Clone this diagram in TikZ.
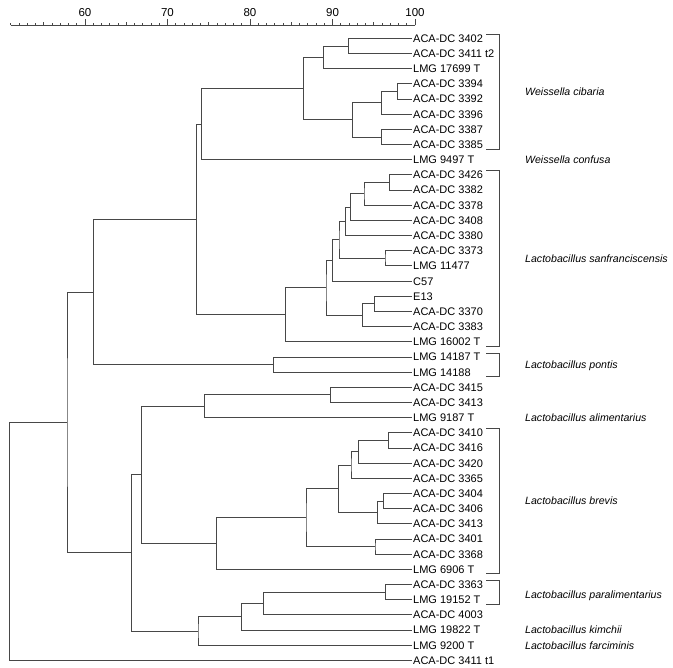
\documentclass[tikz,border=0pt]{standalone}
\usepackage{fontspec}
\setmainfont{Liberation Sans}
\usetikzlibrary{calc}

% join two children into a branch point at x = #2
\newcommand\joint[4]{%
  \path let \p1=($(#3)!.5!(#4)$) in (#2pt,\y1) coordinate (#1);
  \draw[edge] (#3) -| (#1) |- (#4);}
% bracket round leaves #1..#2
\newcommand\grp[2]{%
  \draw[brk] ($(l#1 -| bl)+(0,-4)$) -| ($(l#2 -| br)+(0,4.5)$) -- ($(l#2 -| bl)+(0,4.5)$);}

\begin{document}
\begin{tikzpicture}[x=1pt, y=-1pt]
  \tikzstyle{edge}=[draw=black!72, line width=0.7pt]
  \tikzstyle{brk}=[draw=black!72, line width=0.7pt]
  \tikzstyle{leaf}=[anchor=west, inner sep=1pt, text height=8pt, text depth=0pt,
    font=\fontsize{11}{13}\selectfont]
  \tikzstyle{species}=[anchor=west, inner sep=0pt, text height=8pt, text depth=0pt,
    font=\fontsize{10.6}{12}\selectfont\itshape]

  \useasboundingbox (0,0) rectangle (673,668);

  % scale
  \draw[edge] (10.75,25.5) -- (415,25.5);
  \foreach \v in {51,...,100}
    \draw[edge] ({85+(\v-60)*8.25},25.5) -- ++(0,-2.5);
  \foreach \v in {55,65,...,95}
    \draw[edge] ({85+(\v-60)*8.25},25.5) -- ++(0,-3.5);
  \foreach \v in {60,70,...,100} {
    \draw[edge] ({85+(\v-60)*8.25},25.5) -- ++(0,-6);
    \node[font=\fontsize{11.5}{13}\selectfont, inner sep=0pt] (s\v)
      at ({85+(\v-60)*8.25},12.5) {\v};
  }

  % leaves
  \foreach \lab [count=\i] in {ACA-DC 3402, ACA-DC 3411 t2, LMG 17699 T,
      ACA-DC 3394, ACA-DC 3392, ACA-DC 3396, ACA-DC 3387, ACA-DC 3385,
      LMG 9497 T, ACA-DC 3426, ACA-DC 3382, ACA-DC 3378, ACA-DC 3408,
      ACA-DC 3380, ACA-DC 3373, LMG 11477, C57, E13, ACA-DC 3370,
      ACA-DC 3383, LMG 16002 T, LMG 14187 T, LMG 14188, ACA-DC 3415,
      ACA-DC 3413, LMG 9187 T, ACA-DC 3410, ACA-DC 3416, ACA-DC 3420,
      ACA-DC 3365, ACA-DC 3404, ACA-DC 3406, ACA-DC 3413, ACA-DC 3401,
      ACA-DC 3368, LMG 6906 T, ACA-DC 3363, LMG 19152 T, ACA-DC 4003,
      LMG 19822 T, LMG 9200 T, ACA-DC 3411 t1}
    \node[leaf] (l\i) at (412,{38.3+(\i-1)*15.17}) {\lab};

  % Weissella
  \joint{n1}{348.3}{l1}{l2}
  \joint{n2}{323.3}{n1}{l3}
  \joint{n3}{397.3}{l4}{l5}
  \joint{n4}{381.7}{n3}{l6}
  \joint{n5}{381.7}{l7}{l8}
  \joint{n6}{352.3}{n4}{n5}
  \joint{n7}{303.3}{n2}{n6}
  \joint{n8}{201.3}{n7}{l9}
  % sanfranciscensis
  \joint{n9}{389.3}{l10}{l11}
  \joint{n10}{364}{n9}{l12}
  \joint{n11}{350.7}{n10}{l13}
  \joint{n12}{345.3}{n11}{l14}
  \joint{n13}{385}{l15}{l16}
  \joint{n14}{339}{n12}{n13}
  \joint{n15}{332.7}{n14}{l17}
  \joint{n16}{374.3}{l18}{l19}
  \joint{n17}{362.3}{n16}{l20}
  \joint{n18}{326}{n15}{n17}
  \joint{n19}{285.7}{n18}{l21}
  \joint{n20}{196.7}{n8}{n19}
  \joint{n21}{273.3}{l22}{l23}
  \joint{n22}{93.3}{n20}{n21}
  % alimentarius, brevis and the rest
  \joint{n23}{330.7}{l24}{l25}
  \joint{n24}{204.7}{n23}{l26}
  \joint{n25}{388.3}{l27}{l28}
  \joint{n26}{358.7}{n25}{l29}
  \joint{n27}{351}{n26}{l30}
  \joint{n28}{383.3}{l31}{l32}
  \joint{n29}{377.3}{n28}{l33}
  \joint{n30}{338.3}{n27}{n29}
  \joint{n31}{375}{l34}{l35}
  \joint{n32}{306}{n30}{n31}
  \joint{n33}{216.7}{n32}{l36}
  \joint{n34}{141.7}{n24}{n33}
  \joint{n35}{385.7}{l37}{l38}
  \joint{n36}{263.3}{n35}{l39}
  \joint{n37}{241.3}{n36}{l40}
  \joint{n38}{198}{n37}{l41}
  \joint{n39}{131.7}{n34}{n38}
  \joint{n40}{67}{n22}{n39}
  \joint{n41}{9.3}{n40}{l42}

  % brackets and species
  \coordinate (bl) at (486,0);
  \coordinate (br) at (499.5,0);
  \coordinate (sx) at (525,0);
  \grp{1}{8}
  \grp{10}{21}
  \grp{22}{23}
  \grp{27}{36}
  \grp{37}{38}

  \path (l1) -- (l8) coordinate[midway] (m1);
  \path (l10) -- (l21) coordinate[midway] (m2);
  \path (l22) -- (l23) coordinate[midway] (m3);
  \path (l27) -- (l36) coordinate[midway] (m4);
  \path (l37) -- (l38) coordinate[midway] (m5);
  \node[species] (cib) at (m1 -| sx) {Weissella cibaria};
  \node[species] (conf) at (l9 -| sx) {Weissella confusa};
  \node[species] (sanf) at (m2 -| sx) {Lactobacillus sanfranciscensis};
  \node[species] (pont) at (m3 -| sx) {Lactobacillus pontis};
  \node[species] (alim) at (l26 -| sx) {Lactobacillus alimentarius};
  \node[species] (brev) at (m4 -| sx) {Lactobacillus brevis};
  \node[species, yshift=-2pt] (para) at (m5 -| sx) {Lactobacillus paralimentarius};
  \node[species] (kimc) at (l40 -| sx) {Lactobacillus kimchii};
  \node[species] (farc) at (l41 -| sx) {Lactobacillus farciminis};
\end{tikzpicture}
\end{document}
